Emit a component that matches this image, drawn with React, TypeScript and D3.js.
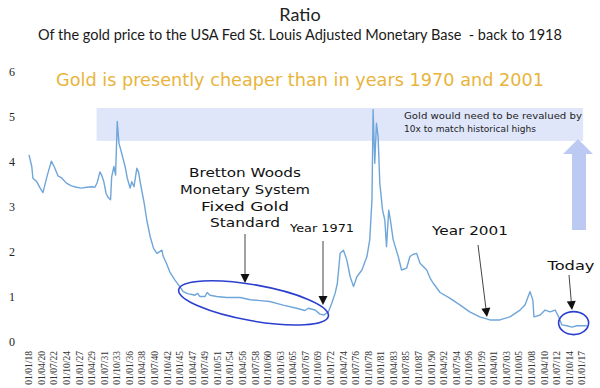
import React from "react";
import * as d3 from "d3";

// ratio of gold price to St. Louis adjusted monetary base
const years = [
  1918.0, 1918.5, 1918.7, 1919.4, 1920.0, 1920.5, 1921.2, 1922.0, 1922.5, 1923.2,
  1923.9, 1924.7, 1925.6, 1926.5, 1927.4, 1928.3, 1929.2, 1929.8, 1930.2, 1930.7,
  1931.0, 1931.4, 1931.8, 1932.2, 1932.6, 1932.8, 1933.2, 1933.5, 1933.8, 1934.1,
  1934.6, 1935.2, 1935.6, 1936.1, 1936.4, 1936.8, 1937.3, 1937.6, 1938.0, 1938.6,
  1939.1, 1939.7, 1940.3, 1940.9, 1941.8, 1942.0, 1942.6, 1943.2, 1944.1, 1945.0,
  1945.6, 1946.5, 1947.0, 1947.7, 1948.2, 1948.6, 1949.5, 1949.9, 1950.4, 1951.6,
  1953.4, 1955.8, 1957.6, 1959.4, 1961.1, 1963.5, 1965.9, 1967.4, 1968.0, 1969.2,
  1970.1, 1970.8, 1971.6, 1972.2, 1972.8, 1973.2, 1973.7, 1974.3, 1974.9, 1975.5,
  1976.1, 1976.7, 1977.6, 1978.5, 1979.0, 1979.4, 1979.6, 1979.9, 1980.2, 1980.5,
  1980.8, 1981.3, 1981.7, 1982.0, 1982.4, 1982.7, 1983.2, 1984.1, 1984.7, 1985.6,
  1986.2, 1986.8, 1987.4, 1988.0, 1989.2, 1989.8, 1990.4, 1991.6, 1993.4, 1995.2,
  1996.9, 1998.7, 2000.5, 2002.3, 2004.1, 2005.9, 2006.8, 2007.7, 2008.2, 2008.4,
  2009.5, 2010.4, 2011.3, 2012.2, 2012.8, 2013.4, 2014.3, 2015.2, 2016.1, 2017.9,
];
const ratios = [
  4.16, 3.9, 3.64, 3.56, 3.42, 3.32, 3.67, 4.02, 3.9, 3.69,
  3.64, 3.53, 3.47, 3.44, 3.42, 3.44, 3.45, 3.44, 3.54, 3.78,
  3.71, 3.56, 3.3, 3.21, 3.16, 3.67, 3.9, 3.71, 4.9, 4.42,
  4.19, 3.9, 3.64, 3.42, 3.56, 3.45, 3.86, 3.78, 3.49, 3.1,
  2.7, 2.34, 2.08, 1.97, 2.04, 1.91, 1.75, 1.56, 1.38, 1.23,
  1.12, 1.07, 1.06, 1.04, 1.08, 1.01, 1.01, 1.1, 1.04, 1.01,
  0.99, 0.99, 0.94, 0.92, 0.9, 0.82, 0.75, 0.7, 0.75, 0.71,
  0.62, 0.6, 0.67, 0.86, 1.08, 1.3, 1.97, 2.04, 1.82, 1.45,
  1.23, 1.45, 1.6, 1.9, 2.27, 3.16, 5.16, 3.97, 4.86, 4.56,
  3.53, 2.93, 2.71, 2.12, 2.93, 2.71, 2.27, 1.9, 1.6, 1.64,
  1.9, 1.95, 1.97, 1.75, 1.6, 1.42, 1.3, 1.1, 0.97, 0.82,
  0.67, 0.56, 0.49, 0.49, 0.56, 0.71, 0.82, 1.12, 0.93, 0.56,
  0.6, 0.71, 0.67, 0.71, 0.56, 0.38, 0.36, 0.33, 0.36, 0.36,
];

const dateLabels = [
  "01/01/18", "01/04/20", "01/07/22", "01/10/24", "01/01/27", "01/04/29", "01/07/31",
  "01/10/33", "01/01/36", "01/04/38", "01/07/40", "01/10/42", "01/01/45", "01/04/47",
  "01/07/49", "01/10/51", "01/01/54", "01/04/56", "01/07/58", "01/10/60", "01/01/63",
  "01/04/65", "01/07/67", "01/10/69", "01/01/72", "01/04/74", "01/07/76", "01/10/78",
  "01/01/81", "01/04/83", "01/07/85", "01/10/87", "01/01/90", "01/04/92", "01/07/94",
  "01/10/96", "01/01/99", "01/04/01", "01/07/03", "01/10/05", "01/01/08", "01/04/10",
  "01/07/12", "01/10/14", "01/01/17",
];
const yTicks = [0, 1, 2, 3, 4, 5, 6];

const hand = "'Comic Sans MS', 'DejaVu Sans', sans-serif";

// dd/mm/yy -> decimal year (series runs 1918..2017)
function labelYear(s: string) {
  const [, mm, yy] = s.split("/").map(Number);
  const full = yy >= 18 ? 1900 + yy : 2000 + yy;
  return full + (mm - 1) / 12;
}

function Arrow({ x1, y1, x2, y2 }: { x1: number; y1: number; x2: number; y2: number }) {
  const ang = Math.atan2(y2 - y1, x2 - x1);
  const len = 9;
  const w = 4.5;
  const bx = x2 - len * Math.cos(ang);
  const by = y2 - len * Math.sin(ang);
  const px = -Math.sin(ang) * w;
  const py = Math.cos(ang) * w;
  return (
    <g>
      <line x1={x1} y1={y1} x2={bx} y2={by} stroke="#444" strokeWidth={1} />
      <path d={`M${x2},${y2}L${bx + px},${by + py}L${bx - px},${by - py}Z`} fill="#111" />
    </g>
  );
}

export default function App() {
  const width = 600;
  const height = 388;
  const x = d3.scaleLinear().domain([1918, 2017]).range([29, 582]);
  const y = d3.scaleLinear().domain([0, 6]).range([342, 72]);

  const pts: [number, number][] = years.map((yr, i) => [yr, ratios[i]]);
  const line = d3
    .line<[number, number]>()
    .x((d) => x(d[0]))
    .y((d) => y(d[1]));

  return (
    <svg
      width={width}
      height={height}
      style={{ position: "absolute", left: 0, top: 0, background: "#fff" }}
    >
      <text x={300} y={21} textAnchor="middle" fontFamily="Lato, sans-serif" fontSize={18} fill="#222">
        Ratio
      </text>
      <text x={300} y={40} textAnchor="middle" fontFamily="Lato, sans-serif" fontSize={14.5} fill="#1a1a1a">
        Of the gold price to the USA Fed St. Louis Adjusted Monetary Base{"\u00a0"} - back to 1918
      </text>

      {/* highlight band */}
      <rect x={x(1930.1)} y={y(5.2)} width={x(2017.2) - x(1930.1)} height={y(4.47) - y(5.2)} fill="#dfe6fa" />
      <text x={404} y={119} fontFamily={hand} fontSize={8.5} fill="#222" textLength={178} lengthAdjust="spacingAndGlyphs">
        Gold would need to be revalued by
      </text>
      <text x={404} y={132} fontFamily={hand} fontSize={8.5} fill="#222" textLength={132} lengthAdjust="spacingAndGlyphs">
        10x to match historical highs
      </text>

      {/* big up arrow */}
      <path
        d={`M572,230L572,154L563,154L578,139L593,154L586,154L586,230Z`}
        fill="#bccaf3"
      />

      <text x={300} y={86} textAnchor="middle" fontFamily={hand} fontSize={18} fill="#e8b43c" textLength={488} lengthAdjust="spacingAndGlyphs">
        Gold is presently cheaper than in years 1970 and 2001
      </text>

      {/* y axis labels */}
      {yTicks.map((t) => (
        <text key={t} x={12} y={y(t)} dy="0.35em" textAnchor="middle" fontFamily="'Liberation Serif', serif" fontSize={12} fill="#222">
          {t}
        </text>
      ))}

      {/* x axis labels */}
      {dateLabels.map((s) => (
        <text
          key={s}
          transform={`translate(${x(labelYear(s))},351) rotate(-90)`}
          dy="0.35em"
          textAnchor="end"
          fontFamily="'Liberation Serif', serif"
          fontSize={9.5}
          fill="#333"
        >
          {s}
        </text>
      ))}

      <path d={line(pts) ?? ""} fill="none" stroke="#6fa6da" strokeWidth={1.4} strokeLinejoin="round" />

      {/* annotations */}
      <ellipse
        cx={x(1958.2)}
        cy={y(0.87)}
        rx={76}
        ry={18}
        transform={`rotate(10 ${x(1958.2)} ${y(0.87)})`}
        fill="none"
        stroke="#2b3fcf"
        strokeWidth={1.6}
      />
      <ellipse cx={x(2015.5)} cy={y(0.42)} rx={15} ry={11.5} fill="none" stroke="#2b3fcf" strokeWidth={1.6} />

      <g fontFamily={hand} fontSize={13} fill="#111" textAnchor="middle">
        <text x={245} y={177} textLength={112} lengthAdjust="spacingAndGlyphs">Bretton Woods</text>
        <text x={245} y={194} textLength={130} lengthAdjust="spacingAndGlyphs">Monetary System</text>
        <text x={245} y={211} textLength={88} lengthAdjust="spacingAndGlyphs">Fixed Gold</text>
        <text x={245} y={227} textLength={70} lengthAdjust="spacingAndGlyphs">Standard</text>
        <text x={322} y={232} fontSize={11} textLength={64} lengthAdjust="spacingAndGlyphs">Year 1971</text>
        <text x={470} y={235} textLength={76} lengthAdjust="spacingAndGlyphs">Year 2001</text>
        <text x={571} y={270} textLength={47} lengthAdjust="spacingAndGlyphs">Today</text>
      </g>
      <Arrow x1={245} y1={234} x2={245} y2={283} />
      <Arrow x1={323} y1={241} x2={323} y2={305} />
      <Arrow x1={478} y1={245} x2={487} y2={317} />
      <Arrow x1={569} y1={275} x2={572} y2={310} />
    </svg>
  );
}
